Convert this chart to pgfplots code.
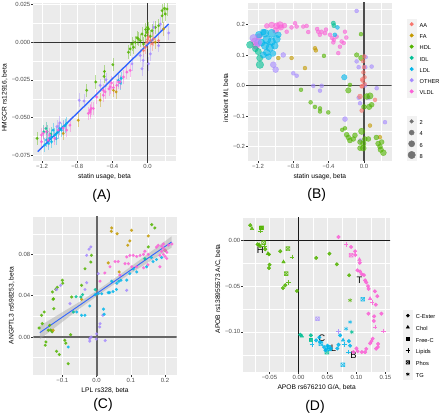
\documentclass[border=0pt]{standalone}
\usepackage{pgfplots}
\pgfplotsset{compat=1.18}
\usepackage{fontspec}
\setmainfont{Liberation Sans}
\definecolor{cAA}{HTML}{F8766D}
\definecolor{cFA}{HTML}{C49A00}
\definecolor{cHDL}{HTML}{53B400}
\definecolor{cIDL}{HTML}{00C094}
\definecolor{cLDL}{HTML}{00B6EB}
\definecolor{cOTH}{HTML}{A58AFF}
\definecolor{cVLDL}{HTML}{FB61D7}
\definecolor{ggbg}{HTML}{EBEBEB}
\definecolor{ggkey}{HTML}{F2F2F2}
\definecolor{ggtick}{HTML}{333333}
\definecolor{ggtext}{HTML}{4D4D4D}
\definecolor{ggline}{HTML}{3366FF}
\pgfdeclareplotmark{boxx}{%
 \pgfpathrectangle{\pgfqpoint{-\pgfplotmarksize}{-\pgfplotmarksize}}{\pgfqpoint{2\pgfplotmarksize}{2\pgfplotmarksize}}%
 \pgfpathmoveto{\pgfqpoint{-\pgfplotmarksize}{-\pgfplotmarksize}}\pgfpathlineto{\pgfqpoint{\pgfplotmarksize}{\pgfplotmarksize}}%
 \pgfpathmoveto{\pgfqpoint{-\pgfplotmarksize}{\pgfplotmarksize}}\pgfpathlineto{\pgfqpoint{\pgfplotmarksize}{-\pgfplotmarksize}}%
 \pgfusepathqstroke}
\pgfplotsset{
 gg/.style={scale only axis, anchor=south west, clip=true,
   axis background/.style={fill=ggbg},
   grid=both, major grid style={white, line width=0.6bp}, minor grid style={white, line width=0.3bp},
   axis line style={draw=none},
   xtick pos=bottom, ytick pos=left, tick align=outside,
   major tick length=2bp, minor tick length=0bp,
   tick style={ggtick, line width=0.5bp},
   tick label style={font=\fontsize{6}{6.5}\selectfont, text=ggtext},
   xticklabel style={inner sep=1.2bp}, yticklabel style={inner sep=0.8bp},
   label style={font=\fontsize{6.7}{8}\selectfont},
   legend cell align=left},
 ptA/.style={only marks, mark=*, mark size=1.6bp, mark options={draw opacity=0, fill opacity=0.85}, forget plot,
   error bars/y dir=both, error bars/y fixed=0.0045, error bars/error bar style={line width=0.7bp, opacity=0.4}, error bars/error mark=none},
 ptB/.style={forget plot, scatter, only marks, mark=*, scatter/use mapped color={draw=#1, fill=#1}, fill opacity=0.6, draw opacity=0.6,
   visualization depends on={\thisrow{r} \as \rr}, scatter/@pre marker code/.append style={/tikz/mark size=\rr}},
 ptC/.style={only marks, mark=*, mark size=1.7bp, mark options={draw opacity=0, fill opacity=0.85}, forget plot},
 ptD/.style={forget plot, scatter, only marks, point meta=explicit symbolic, mark size=1.8bp, opacity=0.85,
   scatter/classes={ce={mark=*}, ch={mark=triangle*, mark size=2.1bp}, fc={mark=square*, mark size=1.5bp}, li={mark=+, mark size=2.3bp, line width=0.6bp}, ph={mark=boxx, mark size=1.9bp, line width=0.6bp}, tg={mark=asterisk, mark size=2.1bp, line width=0.6bp}}},
 gkey/.style={only marks, legend image code/.code={\begin{scope}[yshift=2bp]\fill[ggkey] (-4.8bp,-5.4bp) rectangle (4.8bp,5.4bp); \draw plot coordinates {(0bp,0bp)};\end{scope}}},
 dkey/.style={only marks, black, legend image code/.code={\begin{scope}[yshift=2bp]\fill[ggkey] (-4.8bp,-5.6bp) rectangle (4.8bp,5.6bp); \draw plot coordinates {(0bp,0bp)};\end{scope}}},
 lgd/.style={legend style={draw=none, fill=none, font=\fontsize{5.7}{6}\selectfont, row sep=0pt, nodes={inner sep=0pt}, /tikz/every odd column/.append style={column sep=3bp}}},
}
\begin{document}
\begin{tikzpicture}
\useasboundingbox (0,0) rectangle (440bp,415bp);
\fill[white] (0,0) rectangle (440bp,415bp);
% ---------------- Panel A
\begin{axis}[gg, at={(33.3bp,254bp)}, width=142.4bp, height=157.5bp,
 xmin=-1.30, xmax=0.32, ymin=-0.0789, ymax=0.0258,
 xtick={-1.2,-0.8,-0.4,0}, xticklabels={−1.2,−0.8,−0.4,0.0},
 minor xtick={-1.0,-0.6,-0.2,0.2},
 ytick={-0.075,-0.05,-0.025,0,0.025}, yticklabels={−0.075,−0.050,−0.025,0.000,0.025},
 minor ytick={-0.0625,-0.0375,-0.0125,0.0125},
 xlabel={statin usage, beta}, ylabel={HMGCR rs12916, beta},
 ylabel style={at={(ticklabel cs:0.4)}}]
\addplot[black!80, line width=1.1bp, forget plot] coordinates {(-2,0) (1,0)};
\addplot[black!80, line width=1.1bp, forget plot] coordinates {(0,-1) (0,1)};
\addplot[ptA, cHDL] coordinates {(-1.257,-0.0639) (-0.693,-0.0319) (-0.590,-0.0264) (-0.495,-0.0227) (-0.491,-0.0194) (-0.395,-0.0149) (-0.217,-0.0066) (-0.198,-0.0044) (-0.178,-0.0011) (-0.160,-0.0033) (-0.141,0.0000) (-0.120,0.0030) (-0.103,0.0022) (-0.083,0.0011) (-0.064,0.0055) (-0.046,-0.0011) (-0.026,0.0044) (-0.020,0.0085) (-0.007,0.0066) (0.000,0.0100) (0.011,0.0089) (0.030,0.0040) (0.050,0.0077) (0.088,0.0099) (0.126,0.0110) (0.165,0.0176) (0.165,0.0210) (0.190,0.0225) (0.202,0.0188) (0.222,0.0221)};
\addplot[ptA, cAA] coordinates {(-0.046,-0.0055) (-0.026,-0.0033) (-0.007,0.0000) (0.000,0.0020) (0.011,0.0033) (0.031,0.0011) (0.050,-0.0010) (0.069,0.0022) (0.126,0.0011)};
\addplot[ptA, cFA] coordinates {(-0.960,-0.0606) (-0.789,-0.0518) (-0.540,-0.0385) (-0.389,-0.0319) (-0.358,-0.0330) (0.088,0.0000) (0.183,0.0089)};
\addplot[ptA, cIDL] coordinates {(-1.180,-0.0595) (-1.157,-0.0573) (-1.143,-0.0595) (-1.100,-0.0610)};
\addplot[ptA, cLDL] coordinates {(-1.169,-0.0683) (-1.150,-0.0650) (-1.130,-0.0672) (-1.112,-0.0639) (-1.093,-0.0628) (-1.093,-0.0661) (-1.074,-0.0584) (-1.055,-0.0617) (-1.040,-0.0640) (-1.036,-0.0606) (-1.017,-0.0595) (-0.998,-0.0573) (-0.980,-0.0584) (-0.960,-0.0562) (-0.940,-0.0555) (-0.921,-0.0540) (-0.331,-0.0253) (-0.310,-0.0270) (-0.300,-0.0240)};
\addplot[ptA, cOTH] coordinates {(-1.030,-0.0560) (-0.998,-0.0535) (-0.777,-0.0385) (-0.723,-0.0390) (-0.540,-0.0286) (-0.472,-0.0249) (-0.178,-0.0143) (-0.083,-0.0088) (-0.064,-0.0176) (-0.050,-0.0120) (0.011,-0.0143) (0.031,-0.0077) (0.069,0.0099) (0.126,-0.0022) (0.145,0.0121) (0.240,0.0062)};
\addplot[ptA, cVLDL] coordinates {(-1.207,-0.0661) (-1.207,-0.0617) (-1.189,-0.0606) (-1.150,-0.0595) (-1.131,-0.0650) (-1.112,-0.0617) (-1.055,-0.0639) (-1.017,-0.0584) (-0.960,-0.0570) (-0.921,-0.0584) (-0.883,-0.0551) (-0.674,-0.0473) (-0.655,-0.0463) (-0.655,-0.0452) (-0.640,-0.0440) (-0.617,-0.0440) (-0.578,-0.0364) (-0.503,-0.0352) (-0.503,-0.0319) (-0.483,-0.0330) (-0.440,-0.0310) (-0.426,-0.0297) (-0.410,-0.0270) (-0.389,-0.0301) (-0.350,-0.0286) (-0.331,-0.0264) (-0.312,-0.0264) (-0.274,-0.0231) (-0.236,-0.0198) (-0.198,-0.0187)};
\addplot[ggline, line width=1.4bp, forget plot] coordinates {(-1.25,-0.0727) (0.24,0.0122)};
\end{axis}
% ---------------- Panel B
\begin{axis}[gg, at={(248bp,254bp)}, width=143.7bp, height=158bp,
 xmin=-1.313, xmax=0.314, ymin=-0.247, ymax=0.27,
 xtick={-1.2,-0.8,-0.4,0}, xticklabels={−1.2,−0.8,−0.4,0.0},
 minor xtick={-1.0,-0.6,-0.2,0.2},
 ytick={-0.2,-0.1,0,0.1,0.2}, yticklabels={−0.2,−0.1,0.0,0.1,0.2},
 minor ytick={-0.15,-0.05,0.05,0.15,0.25},
 xlabel={statin usage, beta}, ylabel={incident MI, beta},
 ylabel style={at={(ticklabel cs:0.4)}}, lgd,
 legend style={at={(1.082,0.915)}, anchor=north west}]
\addplot[black!70, line width=1.4bp, forget plot] coordinates {(-2,0) (1,0)};
\addplot[black!70, line width=1.4bp, forget plot] coordinates {(0,-1) (0,1)};
\addplot[ptB=cVLDL] table {
x y r
-0.781 0.204 2
-0.762 0.193 2
-0.687 0.193 2
-0.649 0.195 2
-0.631 0.175 2
-0.530 0.185 2
-0.518 0.176 2
-0.500 0.166 2
-0.480 0.176 2
-0.442 0.171 2
-0.430 0.183 2
-0.385 0.166 2
-0.359 0.155 2
-0.340 0.149 2
-0.347 0.141 2
-0.310 0.160 2
-0.272 0.127 2
-0.253 0.144 2
-0.230 0.139 2
-0.215 0.176 2
-0.200 0.157 2
-0.291 0.106 2
-1.045 0.198 3
-0.989 0.195 3.2
-0.951 0.198 3.5
-0.940 0.190 2.8
-0.875 0.176 2
-1.000 0.180 3
-0.900 0.196 2.5
-1.234 0.144 3.8
-1.220 0.130 3.5
-1.190 0.160 3
-1.100 0.195 2.5
-0.820 0.190 2
};
\addplot[ptB=cIDL] table {
x y r
-1.291 0.133 3.5
-1.230 0.120 3
-1.197 0.111 3.2
-1.180 0.090 3.2
-1.178 0.068 3.8
-0.340 0.196 2.2
-0.347 0.204 2.2
};
\addplot[ptB=cLDL] table {
x y r
-1.121 0.171 4
-1.046 0.171 4
-1.100 0.150 4.2
-1.046 0.144 4
-0.989 0.152 3.8
-1.120 0.130 3.8
-1.066 0.124 4
-1.100 0.108 3.5
-1.140 0.100 3.2
-1.080 0.094 3
-1.190 0.166 3.5
-0.970 0.166 3
-1.160 0.140 3.5
-1.010 0.130 3.5
-1.030 0.105 3
-1.140 0.175 3
-0.330 0.166 2
-0.300 0.190 2
-0.223 0.027 2.8
};
\addplot[ptB=cOTH] table {
x y r
-0.083 0.244 2
-1.027 0.068 3
-1.000 0.052 3
-0.914 0.100 2.5
-0.800 0.040 2
-0.762 0.032 2
-1.200 0.140 3.8
-1.250 0.155 3.8
-0.083 0.079 2
0.020 0.093 2
0.087 0.062 2
0.015 0.060 2
-0.060 0.060 2
0.144 -0.009 2
-0.574 -0.001 2
-0.479 -0.001 2
-0.498 -0.017 2
-0.215 -0.110 2.5
0.238 -0.120 2
-0.045 -0.058 2
0.010 0.000 2
-0.040 -0.180 2
-0.060 -0.040 2
0.050 -0.040 2
};
\addplot[ptB=cFA] table {
x y r
-0.970 0.090 2
-0.819 0.090 2
-0.668 0.057 2
-0.555 0.122 2
-0.545 0.115 2
0.068 -0.131 2
0.181 -0.169 2
};
\addplot[ptB=cHDL] table {
x y r
-0.453 0.097 2
-0.034 0.168 2
-0.083 0.100 2.3
-0.030 0.090 2.8
-0.713 -0.014 2
-0.604 -0.055 2
-0.555 -0.070 2
-0.498 -0.075 2
-0.498 -0.085 2
-0.404 -0.088 2
-0.159 0.002 2
-0.177 -0.016 2.8
-0.246 -0.145 2
-0.215 -0.140 2
-0.196 -0.161 2.5
-0.177 -0.170 2.5
-0.159 -0.180 2.5
-0.121 -0.175 2.5
-0.102 -0.163 2.5
-0.026 -0.150 3.2
-0.008 -0.190 2.8
-0.045 -0.185 2.5
-0.045 -0.205 2.5
-0.008 -0.205 3
0.010 -0.175 2.5
0.050 -0.175 2.5
0.068 -0.034 3.2
0.058 -0.070 2.8
0.030 -0.036 3
0.087 -0.063 2.5
0.181 -0.200 2.5
0.220 -0.220 3
0.200 -0.185 2.5
0.160 -0.190 2.5
0.140 -0.170 2.5
0.190 -0.210 2.8
0.000 -0.070 2.5
};
\addplot[ptB=cAA] table {
x y r
0.003 0.095 2
-0.010 0.080 2
0.000 0.060 2
-0.006 0.043 2
0.006 0.027 2
-0.015 0.016 2
-0.020 0.020 2
0.007 0.005 2
-0.020 -0.002 2
-0.045 -0.036 2.5
-0.026 -0.003 2
0.125 -0.047 2
-0.026 -0.082 2
};
\addlegendimage{gkey, mark=*, cAA, mark size=1.8bp}\addlegendentry{AA}
\addlegendimage{gkey, mark=*, cFA, mark size=1.8bp}\addlegendentry{FA}
\addlegendimage{gkey, mark=*, cHDL, mark size=1.8bp}\addlegendentry{HDL}
\addlegendimage{gkey, mark=*, cIDL, mark size=1.8bp}\addlegendentry{IDL}
\addlegendimage{gkey, mark=*, cLDL, mark size=1.8bp}\addlegendentry{LDL}
\addlegendimage{gkey, mark=*, cOTH, mark size=1.8bp}\addlegendentry{OTHER}
\addlegendimage{gkey, mark=*, cVLDL, mark size=1.8bp}\addlegendentry{VLDL}
\end{axis}
\begin{axis}[at={(248bp,254bp)}, anchor=south west, scale only axis, width=143.7bp, height=158bp, hide axis,
 xmin=0, xmax=1, ymin=0, ymax=1, lgd, legend cell align=left,
 legend style={at={(1.082,0.30)}, anchor=north west}]
\addlegendimage{gkey, mark=*, black!55, mark size=1.9bp}\addlegendentry{2}
\addlegendimage{gkey, mark=*, black!55, mark size=2.5bp}\addlegendentry{4}
\addlegendimage{gkey, mark=*, black!55, mark size=3.1bp}\addlegendentry{6}
\addlegendimage{gkey, mark=*, black!55, mark size=3.7bp}\addlegendentry{8}
\end{axis}
% ---------------- Panel C
\begin{axis}[gg, at={(33.3bp,39.7bp)}, width=143.4bp, height=158.3bp,
 xmin=-0.185, xmax=0.234, ymin=-0.0371, ymax=0.1162,
 xtick={-0.1,0,0.1,0.2}, xticklabels={−0.1,0.0,0.1,0.2},
 minor xtick={-0.15,-0.05,0.05,0.15},
 ytick={0,0.04,0.08}, yticklabels={0.00,0.04,0.08},
 minor ytick={-0.02,0.02,0.06,0.10},
 xlabel={LPL rs328, beta}, ylabel={ANGPTL3 rs598253, beta},
 ylabel style={at={(ticklabel cs:0.44)}}]
\addplot[black!60, line width=2.2bp, forget plot] coordinates {(-2,0) (1,0)};
\addplot[black!60, line width=2.2bp, forget plot] coordinates {(0,-1) (0,1)};
\addplot[ptC, cHDL] coordinates {(-0.168,0.0087) (-0.159,0.0129) (-0.153,0.0242) (-0.161,0.0210) (-0.127,0.0365) (-0.126,0.0370) (-0.129,0.0436) (-0.119,0.0462) (-0.115,0.0480) (-0.100,0.0549) (-0.099,0.0520) (-0.125,0.0274) (-0.137,0.0113) (-0.141,0.0065) (-0.134,0.0067) (-0.130,0.0050) (-0.148,-0.0048) (-0.150,-0.0080) (-0.117,-0.0139) (-0.109,-0.0170) (-0.093,-0.0032) (-0.090,-0.0060) (-0.083,-0.0259) (-0.076,0.0022) (-0.073,0.0387) (-0.044,0.0500) (-0.034,0.0661) (-0.017,0.0726) (-0.015,0.0791) (0.161,0.1088) (0.170,0.1056) (0.151,0.0872) (0.200,0.0840)};
\addplot[ptC, cFA] coordinates {(0.044,0.1056) (0.043,0.1023) (0.060,0.1000) (0.102,0.1033) (0.151,0.0978) (0.097,0.0930) (0.091,0.0888) (0.034,0.0717) (0.066,0.0630) (-0.127,0.0065) (-0.044,0.0365)};
\addplot[ptC, cOTH] coordinates {(-0.029,0.0791) (-0.017,0.0872) (-0.022,0.0850) (0.005,0.0613) (-0.029,0.0526) (-0.034,0.0460) (-0.117,0.0460) (-0.105,0.0500) (-0.078,0.0323) (0.088,0.0452) (0.018,0.0210) (0.010,0.0129) (0.009,0.0097) (-0.020,-0.0016) (-0.020,-0.0040) (-0.016,0.0000) (0.000,0.0030) (0.025,-0.0035) (-0.001,-0.0020)};
\addplot[ptC, cIDL] coordinates {(-0.046,0.0387) (-0.041,0.0410) (-0.068,0.0242) (-0.060,0.0390) (0.141,0.0758) (-0.004,0.0458)};
\addplot[ptC, cLDL] coordinates {(-0.058,0.0242) (-0.044,0.0210) (-0.034,0.0210) (-0.020,0.0300) (-0.083,-0.0097) (0.015,0.0419) (0.005,0.0420) (0.034,0.0430) (0.038,0.0430) (0.048,0.0440) (0.058,0.0460) (0.065,0.0540) (0.071,0.0550) (0.059,0.0520) (0.088,0.0550) (0.097,0.0613) (0.107,0.0660) (0.117,0.0630) (0.146,0.0680) (0.165,0.0730) (0.022,0.0220) (0.020,0.0270) (0.044,0.0540) (-0.004,0.0410) (0.175,0.0750) (0.160,0.0770) (0.190,0.0770)};
\addplot[ptC, cVLDL] coordinates {(0.180,0.0888) (0.190,0.0880) (0.195,0.0860) (0.200,0.0840) (0.190,0.0830) (0.205,0.0820) (0.195,0.0800) (0.200,0.0780) (0.185,0.0790) (0.175,0.0870) (0.210,0.0890) (0.220,0.0900) (0.195,0.0900) (0.185,0.0680) (0.205,0.0760) (0.088,0.0775) (0.097,0.0790) (0.107,0.0790) (0.117,0.0780) (0.127,0.0790) (0.137,0.0800) (0.141,0.0830) (0.151,0.0800) (0.093,0.0710) (0.083,0.0710) (0.063,0.0730) (0.054,0.0730) (0.039,0.0680) (0.024,0.0620) (0.010,0.0540) (0.103,0.0680) (0.117,0.0680) (0.137,0.0670) (0.068,0.0600) (0.150,0.0700)};
\addplot[fill=gray!70, draw=none, fill opacity=0.45, forget plot] coordinates {(-0.166,0.0107) (-0.1,0.0240) (-0.05,0.0340) (0,0.0448) (0.05,0.0562) (0.1,0.0682) (0.15,0.0805) (0.219,0.0975) (0.219,0.0865) (0.15,0.0721) (0.1,0.0616) (0.05,0.0508) (0,0.0394) (-0.05,0.0274) (-0.1,0.0146) (-0.166,-0.0023)} -- cycle;
\addplot[ggline, line width=0.9bp, forget plot] coordinates {(-0.166,0.0042) (0.219,0.0920)};
\end{axis}
% ---------------- Panel D
\begin{axis}[gg, at={(243.3bp,43bp)}, width=146.7bp, height=154bp,
 xmin=-0.0953, xmax=0.158, ymin=-0.1437, ymax=0.0243,
 xtick={-0.05,0,0.05,0.1,0.15}, xticklabels={−0.05,0.00,0.05,0.10,0.15},
 minor xtick={-0.075,-0.025,0.025,0.075,0.125},
 ytick={-0.1,-0.05,0}, yticklabels={−0.10,−0.05,0.00},
 minor ytick={-0.125,-0.075,-0.025},
 xlabel={APOB rs676210 G/A, beta}, ylabel={APOB rs138955573 A/C, beta},
 ylabel style={at={(ticklabel cs:0.54)}}, lgd,
 legend style={at={(1.065,0.4175)}, anchor=north west}]
\addplot[black!90, line width=0.9bp, forget plot] coordinates {(-2,0) (1,0)};
\addplot[black!90, line width=0.9bp, forget plot] coordinates {(0,-1) (0,1)};
\addplot[ptD, cHDL] table[meta=s] {
x y s
-0.0833 0.0164 ce
-0.0804 0.0127 ch
-0.0648 0.0134 fc
-0.0638 0.0137 ph
-0.0660 0.0100 li
-0.0707 -0.0044 ce
-0.0680 -0.0050 ch
-0.0661 -0.0066 ce
-0.0603 -0.0026 ph
-0.0592 -0.0066 li
-0.0575 -0.0098 ce
-0.0528 -0.0146 ch
-0.0511 -0.0153 ce
-0.0500 -0.0266 ce
-0.0511 -0.0303 ce
-0.0316 -0.0120 ce
-0.0183 -0.0092 ph
-0.0259 -0.0237 ch
-0.0114 -0.0182 li
-0.0212 -0.0364 ph
-0.0172 -0.0463 li
-0.0229 -0.0491 ce
-0.0269 -0.0521 ce
-0.0028 -0.0553 ce
0.0305 -0.0193 ce
0.0534 -0.0146 ce
0.0662 -0.0262 ce
0.0874 -0.0382 ce
0.0891 -0.0655 tg
};
\addplot[ptD, cIDL] table[meta=s] {
x y s
0.0029 -0.1030 ce
0.0057 -0.1045 ch
0.0213 -0.1037 ce
0.0210 -0.1080 fc
0.0490 -0.1220 ph
0.0920 -0.1001 tg
};
\addplot[ptD, cOTH] table[meta=s] {
x y s
0.0328 -0.0856 ph
0.0690 -0.0994 li
};
\addplot[ptD, cLDL] table[meta=s] {
x y s
0.1110 -0.0644 ph
0.0891 -0.0892 tg
0.0822 -0.0965 tg
0.0719 -0.1037 ce
0.0770 -0.1090 ch
0.0870 -0.1100 ce
0.0890 -0.1150 ce
0.0790 -0.1140 li
0.0690 -0.1140 ce
0.0670 -0.1180 ce
0.0860 -0.1220 li
0.0765 -0.1358 ph
0.0305 -0.1092 ce
0.0360 -0.1060 ce
0.0231 -0.1135 li
0.0385 -0.1128 ph
0.0442 -0.1165 ce
0.0480 -0.1190 ce
0.0518 -0.1165 fc
0.0465 -0.1200 ce
0.0540 -0.1195 ch
0.0560 -0.1180 ce
0.0370 -0.1110 ce
0.0500 -0.1150 ce
};
\addplot[ptD, cVLDL] table[meta=s] {
x y s
0.0690 0.0036 ce
0.0822 -0.0044 li
0.0908 -0.0073 ce
0.0977 -0.0120 ce
0.0980 -0.0160 ce
0.0908 -0.0164 ph
0.1052 -0.0212 ch
0.1057 -0.0245 ce
0.1017 -0.0328 ce
0.1060 -0.0340 ce
0.1090 -0.0370 ce
0.1130 -0.0380 ce
0.1150 -0.0437 ce
0.1170 -0.0460 ce
0.1200 -0.0500 ce
0.1210 -0.0530 ce
0.1320 -0.0557 ce
0.1360 -0.0610 ce
0.1236 -0.0638 ch
0.1270 -0.0680 li
0.1335 -0.0703 ce
0.1207 -0.0801 ce
0.1305 -0.0830 ce
0.1431 -0.0801 ce
0.1300 -0.0880 ce
0.1322 -0.0947 li
0.1280 -0.1074 ce
0.1260 -0.1100 ce
0.1236 -0.1125 ce
0.1370 -0.1165 ce
0.1375 -0.1130 ce
0.1340 -0.1183 ce
0.1466 -0.0990 li
0.1093 -0.1220 ce
0.1150 -0.1220 ce
0.0948 -0.1220 ce
0.1000 -0.1180 ce
0.1020 -0.1210 ce
0.1170 -0.1185 ce
};
\node[font=\fontsize{9.5}{10}\selectfont] at (axis cs:-0.066,-0.0109) {H};
\node[font=\fontsize{9.5}{10}\selectfont] at (axis cs:0.1052,-0.0437) {T};
\node[font=\fontsize{9.5}{10}\selectfont] at (axis cs:0.0403,-0.1074) {C};
\node[font=\fontsize{9.5}{10}\selectfont] at (axis cs:0.0603,-0.1176) {L};
\node[font=\fontsize{9.5}{10}\selectfont] at (axis cs:0.0948,-0.1249) {B};
\addlegendimage{dkey, mark=*, mark size=1.6bp}\addlegendentry{C-Ester}
\addlegendimage{dkey, mark=triangle*, mark size=1.9bp}\addlegendentry{Chol}
\addlegendimage{dkey, mark=square*, mark size=1.4bp}\addlegendentry{Free-C}
\addlegendimage{dkey, mark=+, mark size=2.1bp, line width=0.6bp}\addlegendentry{Lipids}
\addlegendimage{dkey, mark=boxx, mark size=1.7bp, line width=0.6bp}\addlegendentry{Phos}
\addlegendimage{dkey, mark=asterisk, mark size=1.9bp, line width=0.6bp}\addlegendentry{TG}
\end{axis}
% ---------------- Panel tags
\node[font=\fontsize{14}{16}\selectfont] at (101.7bp,219bp) {(A)};
\node[font=\fontsize{14}{16}\selectfont] at (316.7bp,220bp) {(B)};
\node[font=\fontsize{14}{16}\selectfont] at (103bp,10bp) {(C)};
\node[font=\fontsize{14}{16}\selectfont] at (315bp,8.3bp) {(D)};
\end{tikzpicture}
\end{document}
